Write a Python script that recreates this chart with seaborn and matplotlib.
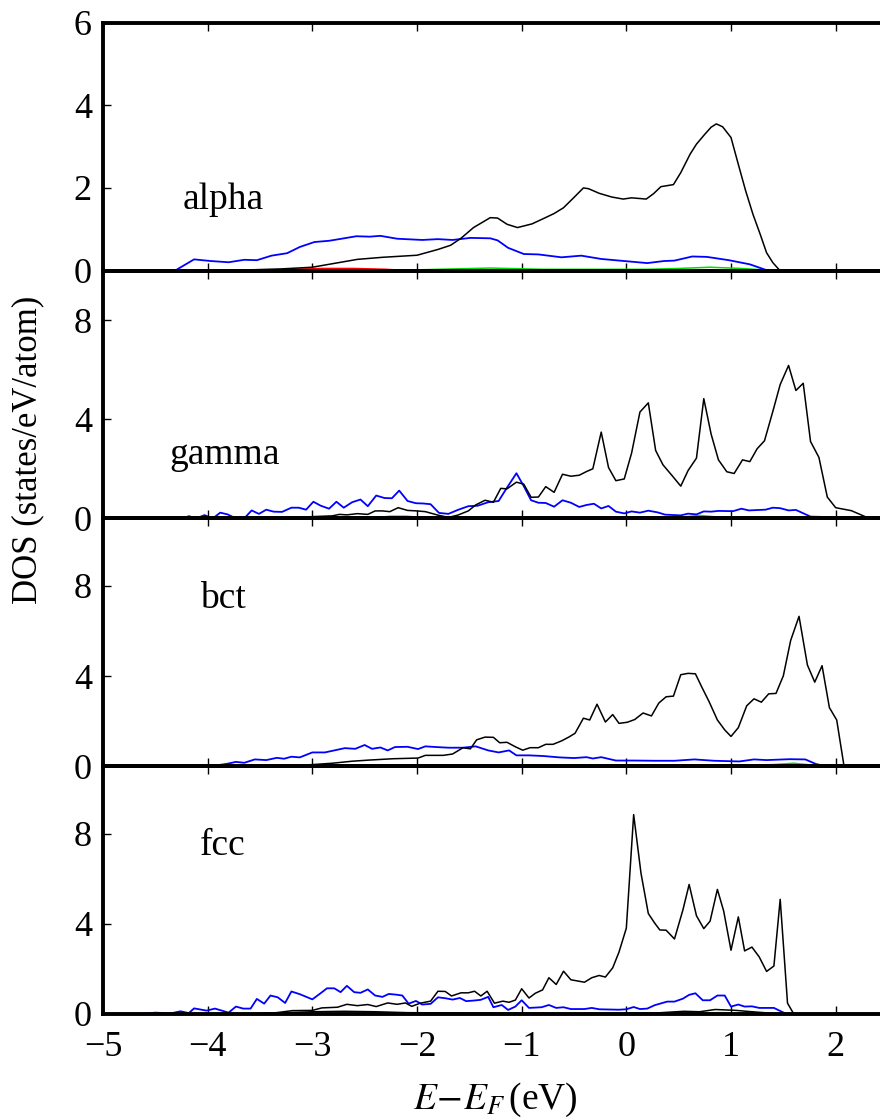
import matplotlib
matplotlib.use("Agg")
import matplotlib.pyplot as plt
import seaborn as sns

# ---------------- data ----------------
panel_names = ["alpha", "gamma", "bct", "fcc"]
x_ticks = [-5, -4, -3, -2, -1, 0, 1, 2]

# alpha
alpha_tot_x = [-3.9, -3.68, -3.29, -3.0, -2.57, -2.33, -2.0, -1.8, -1.68, -1.58, -1.46, -1.3, -1.23, -1.14,
               -1.04, -0.9, -0.79, -0.69, -0.6, -0.5, -0.41, -0.36, -0.26, -0.14, -0.03, 0.05, 0.19, 0.26,
               0.33, 0.45, 0.52, 0.61, 0.67, 0.75, 0.81, 0.86, 0.92, 1.0, 1.07, 1.14, 1.21, 1.28, 1.34,
               1.4, 1.46]
alpha_tot_y = [0.0, 0.01, 0.04, 0.08, 0.27, 0.32, 0.37, 0.51, 0.61, 0.78, 1.04, 1.28, 1.27, 1.12,
               1.04, 1.13, 1.26, 1.38, 1.52, 1.77, 2.0, 1.98, 1.87, 1.78, 1.73, 1.76, 1.73, 1.86,
               2.03, 2.08, 2.37, 2.82, 3.06, 3.30, 3.47, 3.55, 3.48, 3.22, 2.57, 1.93, 1.36, 0.87, 0.43,
               0.19, 0.02]
alpha_d_x = [-4.31, -4.13, -3.97, -3.8, -3.65, -3.53, -3.39, -3.24, -3.12, -2.98, -2.84, -2.72, -2.58,
             -2.45, -2.35, -2.19, -1.95, -1.8, -1.66, -1.49, -1.3, -1.23, -1.13, -0.98, -0.84, -0.62,
             -0.43, -0.24, -0.02, 0.2, 0.36, 0.46, 0.63, 0.77, 0.98, 1.18, 1.35]
alpha_d_y = [0.0, 0.27, 0.23, 0.2, 0.26, 0.25, 0.36, 0.42, 0.57, 0.69, 0.72, 0.77, 0.83,
             0.82, 0.84, 0.77, 0.74, 0.76, 0.74, 0.79, 0.78, 0.73, 0.55, 0.40, 0.39, 0.32,
             0.36, 0.28, 0.23, 0.18, 0.23, 0.24, 0.34, 0.33, 0.25, 0.15, 0.0]
alpha_s_x = [-3.5, -3.2, -2.9, -2.6, -2.3, -2.1]
alpha_s_y = [0.0, 0.03, 0.05, 0.05, 0.03, 0.0]
alpha_p_x = [-2.2, -1.8, -1.3, -0.8, -0.3, 0.2, 0.5, 0.8, 1.1, 1.4]
alpha_p_y = [0.0, 0.03, 0.06, 0.03, 0.03, 0.03, 0.05, 0.08, 0.05, 0.0]

# gamma
gamma_tot_x = [-3.24, -3.0, -2.81, -2.74, -2.67, -2.57, -2.47, -2.4, -2.33, -2.26, -2.18, -2.09, -2.0,
               -1.92, -1.8, -1.7, -1.61, -1.51, -1.44, -1.35, -1.27, -1.2, -1.14, -1.05, -0.98, -0.91,
               -0.84, -0.77, -0.69, -0.61, -0.53, -0.45, -0.38, -0.32, -0.24, -0.17, -0.1, -0.02, 0.05,
               0.13, 0.21, 0.28, 0.35, 0.44, 0.52, 0.59, 0.67, 0.74, 0.81, 0.88, 0.96, 1.03, 1.11, 1.18,
               1.25, 1.32, 1.4, 1.47, 1.55, 1.62, 1.69, 1.76, 1.84, 1.92, 2.0, 2.15, 2.32]
gamma_tot_y = [0.0, 0.07, 0.1, 0.16, 0.14, 0.19, 0.16, 0.3, 0.3, 0.27, 0.43, 0.32, 0.3,
               0.27, 0.13, 0.04, 0.13, 0.3, 0.54, 0.73, 0.65, 1.21, 1.19, 1.46, 1.38, 0.85,
               0.86, 1.28, 1.05, 1.78, 1.70, 1.74, 1.89, 2.0, 3.48, 2.05, 1.52, 1.59, 2.63,
               4.29, 4.66, 2.74, 2.16, 1.71, 1.30, 1.93, 2.43, 4.83, 3.4, 2.36, 1.88, 1.81, 2.36, 2.29,
               2.81, 3.13, 4.32, 5.4, 6.17, 5.16, 5.45, 3.1, 2.46, 0.86, 0.43, 0.31, 0.0]
gamma_d_x = [-4.23, -4.18, -4.11, -4.03, -3.95, -3.88, -3.81, -3.73, -3.65, -3.58, -3.51, -3.44, -3.37,
             -3.29, -3.2, -3.13, -3.06, -2.99, -2.92, -2.84, -2.77, -2.7, -2.62, -2.54, -2.47, -2.39,
             -2.31, -2.24, -2.17, -2.09, -2.01, -1.94, -1.87, -1.79, -1.7, -1.61, -1.51, -1.42, -1.32,
             -1.22, -1.14, -1.05, -0.98, -0.91, -0.84, -0.77, -0.69, -0.61, -0.53, -0.45, -0.38, -0.31,
             -0.24, -0.17, -0.1, -0.02, 0.05, 0.13, 0.21, 0.3, 0.37, 0.52, 0.59, 0.67, 0.74, 0.81,
             0.88, 1.02, 1.1, 1.17, 1.33, 1.4, 1.47, 1.55, 1.62, 1.76, 1.86, 1.92]
gamma_d_y = [0.0, 0.09, 0.0, 0.13, 0.0, 0.23, 0.16, 0.0, 0.0, 0.32, 0.18, 0.35, 0.27,
             0.26, 0.43, 0.43, 0.35, 0.67, 0.51, 0.39, 0.67, 0.43, 0.65, 0.76, 0.49, 0.92,
             0.82, 0.81, 1.12, 0.7, 0.61, 0.60, 0.57, 0.22, 0.18, 0.34, 0.49, 0.51, 0.65,
             0.7, 1.24, 1.82, 1.3, 0.73, 0.63, 0.62, 0.47, 0.73, 0.63, 0.46, 0.54, 0.59,
             0.40, 0.5, 0.27, 0.2, 0.28, 0.23, 0.31, 0.24, 0.15, 0.12, 0.19, 0.16, 0.28, 0.27,
             0.3, 0.29, 0.39, 0.32, 0.35, 0.43, 0.41, 0.32, 0.34, 0.07, 0.06, 0.0]
gamma_s_x = [-2.6, -2.4, -2.25, -2.1, -1.95, -1.8]
gamma_s_y = [0.0, 0.04, 0.08, 0.08, 0.04, 0.0]
gamma_p_x = [-1.5, -1.0, -0.5, 0.0, 0.5, 0.7, 0.9, 1.3, 1.8]
gamma_p_y = [0.0, 0.04, 0.03, 0.03, 0.04, 0.12, 0.04, 0.03, 0.0]

# bct
bct_tot_x = [-3.29, -3.0, -2.81, -2.62, -2.46, -2.23, -1.99, -1.92, -1.75, -1.66, -1.56, -1.49, -1.43,
             -1.35, -1.27, -1.21, -1.14, -1.06, -0.99, -0.92, -0.84, -0.77, -0.7, -0.62, -0.55, -0.49,
             -0.41, -0.35, -0.28, -0.2, -0.13, -0.07, 0.01, 0.08, 0.16, 0.24, 0.31, 0.38, 0.45, 0.52,
             0.59, 0.66, 0.72, 0.79, 0.87, 0.94, 1.0, 1.07, 1.15, 1.22, 1.29, 1.36, 1.43, 1.5, 1.57,
             1.65, 1.73, 1.8, 1.87, 1.94, 2.01, 2.08]
bct_tot_y = [0.0, 0.07, 0.13, 0.22, 0.27, 0.33, 0.36, 0.48, 0.48, 0.54, 0.82, 0.77, 1.17,
             1.29, 1.28, 1.04, 1.06, 0.86, 0.71, 0.82, 0.82, 0.97, 0.97, 1.12, 1.29, 1.46,
             2.13, 2.05, 2.75, 1.96, 2.29, 1.9, 1.95, 2.07, 2.36, 2.23, 2.8, 3.08, 3.11, 4.06,
             4.12, 4.1, 3.52, 2.87, 2.05, 1.61, 1.32, 1.71, 2.68, 2.99, 2.84, 3.21, 3.23, 4.01, 5.58,
             6.65, 4.49, 3.73, 4.46, 2.6, 2.05, 0.0]
bct_d_x = [-4.45, -4.33, -4.16, -3.97, -3.82, -3.73, -3.65, -3.55, -3.44, -3.34, -3.27, -3.2, -3.12,
           -3.0, -2.88, -2.79, -2.69, -2.59, -2.5, -2.43, -2.35, -2.28, -2.21, -2.09, -1.99, -1.92,
           -1.82, -1.7, -1.56, -1.44, -1.32, -1.22, -1.12, -1.05, -0.93, -0.79, -0.64, -0.5, -0.38,
           -0.32, -0.24, -0.1, 0.08, 0.27, 0.46, 0.65, 0.84, 1.08, 1.22, 1.34, 1.56, 1.71, 1.81, 1.9]
bct_d_y = [0.0, 0.04, 0.0, 0.0, 0.1, 0.19, 0.15, 0.3, 0.27, 0.37, 0.33, 0.42, 0.39,
           0.61, 0.61, 0.7, 0.8, 0.77, 0.94, 0.77, 0.83, 0.7, 0.85, 0.86, 0.76, 0.88,
           0.85, 0.82, 0.82, 0.88, 0.7, 0.61, 0.7, 0.48, 0.48, 0.45, 0.39, 0.36, 0.40,
           0.34, 0.40, 0.25, 0.25, 0.24, 0.24, 0.3, 0.24, 0.21, 0.3, 0.27, 0.31, 0.30, 0.1, 0.0]
bct_s_x = [-2.9, -2.7, -2.5, -2.3, -2.1]
bct_s_y = [0.0, 0.04, 0.06, 0.04, 0.0]
bct_p_x = [-1.5, -1.0, -0.5, 0.0, 0.5, 1.0, 1.4, 1.6, 1.75, 1.9]
bct_p_y = [0.0, 0.03, 0.03, 0.03, 0.04, 0.04, 0.07, 0.13, 0.06, 0.0]

# fcc
fcc_tot_x = [-3.68, -3.34, -3.19, -3.0, -2.91, -2.76, -2.67, -2.57, -2.47, -2.39, -2.28, -2.19, -2.11,
             -2.05, -1.97, -1.87, -1.8, -1.73, -1.67, -1.58, -1.51, -1.45, -1.39, -1.33, -1.26, -1.18,
             -1.12, -1.06, -1.0, -0.93, -0.87, -0.8, -0.74, -0.67, -0.6, -0.53, -0.4, -0.33, -0.26,
             -0.2, -0.13, -0.07, 0.0, 0.07, 0.14, 0.21, 0.27, 0.32, 0.38, 0.46, 0.54, 0.6, 0.67, 0.74,
             0.8, 0.87, 0.93, 1.0, 1.07, 1.13, 1.2, 1.27, 1.34, 1.41, 1.47, 1.54, 1.6]
fcc_tot_y = [0.0, 0.06, 0.15, 0.16, 0.27, 0.3, 0.43, 0.37, 0.42, 0.33, 0.49, 0.43, 0.49,
             0.34, 0.48, 0.57, 1.01, 1.0, 0.8, 0.94, 0.94, 1.01, 0.8, 1.01, 0.48, 0.57,
             0.52, 0.62, 1.12, 0.71, 0.92, 1.07, 1.61, 1.31, 1.9, 1.52, 1.41, 1.61, 1.71,
             1.64, 2.05, 2.75, 3.81, 8.85, 6.25, 4.46, 4.04, 3.73, 3.72, 3.33, 4.61, 5.75, 4.36, 3.79,
             4.12, 5.53, 4.57, 2.83, 4.31, 2.8, 2.97, 2.53, 1.89, 2.13, 5.09, 0.48, 0.0]
fcc_d_x = [-4.64, -4.5, -4.35, -4.26, -4.18, -4.13, -4.01, -3.93, -3.8, -3.73, -3.66, -3.59, -3.53,
           -3.46, -3.4, -3.33, -3.26, -3.2, -3.12, -3.0, -2.93, -2.86, -2.79, -2.73, -2.67, -2.6,
           -2.54, -2.47, -2.4, -2.33, -2.27, -2.2, -2.14, -2.08, -2.01, -1.95, -1.87, -1.8, -1.73,
           -1.66, -1.59, -1.53, -1.45, -1.39, -1.32, -1.27, -1.19, -1.13, -1.06, -1.0, -0.93, -0.81,
           -0.74, -0.67, -0.6, -0.53, -0.4, -0.33, -0.26, -0.07, 0.0, 0.07, 0.13, 0.2, 0.27, 0.39,
           0.46, 0.54, 0.6, 0.66, 0.73, 0.8, 0.87, 0.94, 1.0, 1.07, 1.13, 1.2, 1.27, 1.41, 1.53]
fcc_d_y = [0.0, 0.06, 0.03, 0.12, 0.04, 0.25, 0.15, 0.24, 0.06, 0.33, 0.24, 0.24, 0.67,
           0.46, 0.82, 0.74, 0.49, 1.0, 0.88, 0.65, 0.89, 1.14, 1.14, 0.97, 1.25, 0.97,
           0.94, 1.09, 0.82, 0.76, 0.89, 0.86, 0.82, 0.46, 0.58, 0.42, 0.45, 0.74, 0.7,
           0.64, 0.71, 0.57, 0.6, 0.63, 0.76, 0.3, 0.4, 0.18, 0.33, 0.61, 0.27, 0.3,
           0.4, 0.27, 0.3, 0.22, 0.22, 0.27, 0.21, 0.19, 0.21, 0.31, 0.22, 0.24, 0.39, 0.55,
           0.55, 0.68, 0.85, 0.92, 0.61, 0.61, 0.82, 0.82, 0.33, 0.42, 0.33, 0.34, 0.27, 0.27, 0.0]
fcc_k_x = [-3.6, -3.3, -3.0, -2.7, -2.4, -2.1, -1.8, -1.5, -1.0, -0.5, 0.0, 0.3, 0.55, 0.7,
           0.85, 0.95, 1.05, 1.2, 1.4, 1.55]
fcc_k_y = [0.0, 0.05, 0.1, 0.12, 0.1, 0.06, 0.05, 0.04, 0.03, 0.02, 0.02, 0.05, 0.12, 0.1,
           0.2, 0.18, 0.16, 0.1, 0.03, 0.0]
fcc_s_x = [-2.8, -2.5, -2.2, -2.0]
fcc_s_y = [0.0, 0.03, 0.03, 0.0]
fcc_p_x = [-1.0, 0.0, 0.7, 0.9, 1.2, 1.5]
fcc_p_y = [0.0, 0.02, 0.05, 0.06, 0.04, 0.0]

y_limits = [(0, 6), (0, 10), (0, 11), (0, 11)]
y_ticks = [[0, 2, 4, 6], [0, 4, 8], [0, 4, 8], [0, 4, 8]]
label_pos = [(-4.24, 1.48), (-4.37, 2.2), (-4.07, 7.03), (-4.07, 7.07)]

panels = [
    [(alpha_s_x, alpha_s_y, "red"), (alpha_p_x, alpha_p_y, "#00dd00"),
     (alpha_d_x, alpha_d_y, "blue"), (alpha_tot_x, alpha_tot_y, "black")],
    [(gamma_s_x, gamma_s_y, "red"), (gamma_p_x, gamma_p_y, "#00dd00"),
     (gamma_d_x, gamma_d_y, "blue"), (gamma_tot_x, gamma_tot_y, "black")],
    [(bct_s_x, bct_s_y, "red"), (bct_p_x, bct_p_y, "#00dd00"),
     (bct_d_x, bct_d_y, "blue"), (bct_tot_x, bct_tot_y, "black")],
    [(fcc_s_x, fcc_s_y, "red"), (fcc_p_x, fcc_p_y, "#00dd00"), (fcc_k_x, fcc_k_y, "black"),
     (fcc_d_x, fcc_d_y, "blue"), (fcc_tot_x, fcc_tot_y, "black")],
]

# ---------------- style ----------------
sns.set_theme(style="ticks")
plt.rcParams["font.family"] = ["Liberation Serif", "DejaVu Serif"]
plt.rcParams["mathtext.fontset"] = "stix"
plt.rcParams["text.color"] = "black"
plt.rcParams["axes.labelcolor"] = "black"

W, H = 880, 1118
fig = plt.figure(figsize=(W / 100, H / 100), dpi=100)

left_px, right_px = 103, 888
top_px, bot_px = 22.7, 1014
ph = (bot_px - top_px) / 4

axes = []
for i in range(4):
    y_top = top_px + i * ph
    ax = fig.add_axes([left_px / W, 1 - (y_top + ph) / H, (right_px - left_px) / W, ph / H])
    axes.append(ax)
    for xs, ys, col in panels[i]:
        lw = 1.3 if col == "blue" else 1.1
        sns.lineplot(x=xs, y=ys, ax=ax, color=col, linewidth=lw, sort=False,
                     estimator=None, legend=False)
    ax.set_xlim(-5, 2.5)
    ax.set_ylim(*y_limits[i])
    ax.set_xticks(x_ticks)
    ax.set_yticks(y_ticks[i])
    for side in ["top", "bottom", "left", "right"]:
        ax.spines[side].set_linewidth(2.8)
        ax.spines[side].set_color("black")
    ax.tick_params(direction="in", top=True, right=True, length=6, width=1.0,
                   labelsize=26, pad=8, colors="black")
    ax.tick_params(axis="x", pad=12)
    ax.set_xlabel("")
    ax.set_ylabel("")
    if i < 3:
        ax.tick_params(labelbottom=False)
    ax.text(label_pos[i][0], label_pos[i][1], panel_names[i], fontsize=27,
            ha="left", va="baseline", color="black")
    ax.patch.set_alpha(0)

axes[-1].set_xlabel(r"$E\!-\!E_F\,$(eV)", fontsize=27, labelpad=12, color="black")
fig.text(28 / W, 1 - 450 / H, "DOS (states/eV/atom)", rotation=90, fontsize=25,
         ha="center", va="center", color="black")

fig.savefig("out.png", dpi=100)
